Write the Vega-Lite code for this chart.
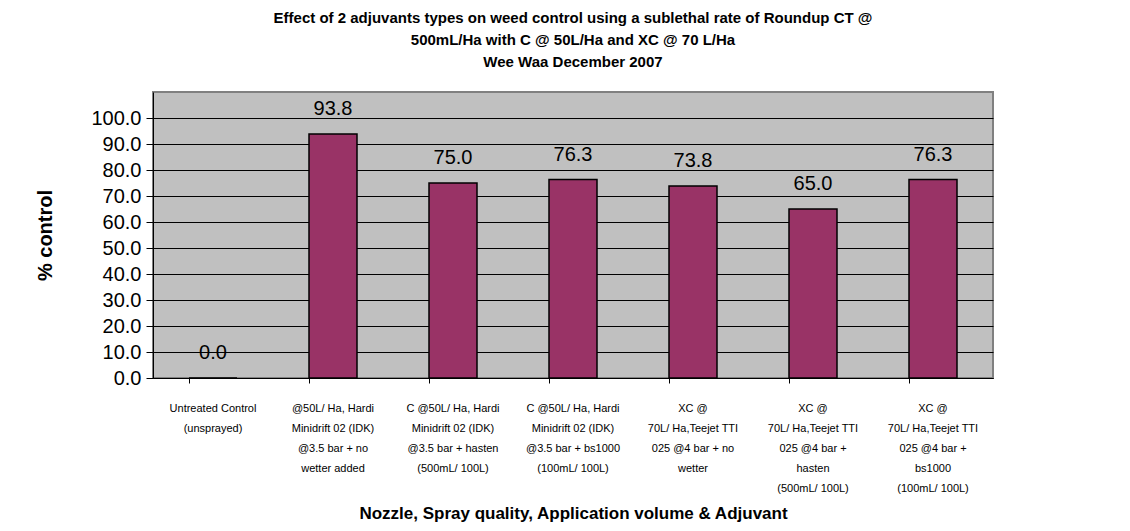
{
  "$schema": "https://vega.github.io/schema/vega-lite/v6.json",
  "width": 840,
  "height": 286,
  "autosize": {"type": "none"},
  "padding": {"left": 153, "top": 92, "right": 137, "bottom": 153},
  "background": "white",
  "title": {
    "text": ["Effect of 2 adjuvants types on weed control using a sublethal rate of Roundup CT @", "500mL/Ha with C @ 50L/Ha and XC @ 70 L/Ha", "Wee Waa December 2007"],
    "font": "Liberation Sans",
    "fontSize": 15,
    "fontWeight": "bold",
    "lineHeight": 22,
    "color": "black",
    "anchor": "middle",
    "offset": 22
  },
  "data": {
    "values": [
      {"treatment": "Untreated Control|(unsprayed)", "control": 0.0},
      {"treatment": "@50L/ Ha, Hardi|Minidrift 02 (IDK)|@3.5 bar + no|wetter added", "control": 93.8},
      {"treatment": "C @50L/ Ha, Hardi|Minidrift 02 (IDK)|@3.5 bar + hasten|(500mL/ 100L)", "control": 75.0},
      {"treatment": "C @50L/ Ha, Hardi|Minidrift 02 (IDK)|@3.5 bar + bs1000|(100mL/ 100L)", "control": 76.3},
      {"treatment": "XC @|70L/ Ha,Teejet TTI|025 @4 bar + no|wetter", "control": 73.8},
      {"treatment": "XC @|70L/ Ha,Teejet TTI|025 @4 bar +|hasten|(500mL/ 100L)", "control": 65.0},
      {"treatment": "XC @ |70L/ Ha,Teejet TTI|025 @4 bar +|bs1000|(100mL/ 100L)", "control": 76.3}
    ]
  },
  "encoding": {
    "x": {
      "field": "treatment",
      "type": "nominal",
      "sort": null,
      "scale": {"paddingInner": 0.6, "paddingOuter": 0.3},
      "axis": {
        "title": "Nozzle, Spray quality, Application volume & Adjuvant",
        "titleFont": "Liberation Sans",
        "titleFontSize": 17,
        "titleFontWeight": "bold",
        "titleColor": "black",
        "titlePadding": 12,
        "labelExpr": "split(datum.label, '|')",
        "labelAngle": 0,
        "labelFont": "Liberation Sans",
        "labelFontSize": 11,
        "labelLineHeight": 20,
        "labelColor": "black",
        "labelPadding": 19,
        "labelBaseline": "top",
        "labelLimit": 0,
        "domainColor": "black",
        "tickColor": "black",
        "tickSize": 5,
        "bandPosition": 0
      }
    },
    "y": {
      "field": "control",
      "type": "quantitative",
      "scale": {"domain": [0, 110], "nice": false},
      "axis": {
        "title": "% control",
        "titleFont": "Liberation Sans",
        "titleFontSize": 20,
        "titleFontWeight": "bold",
        "titleColor": "black",
        "titlePadding": 35,
        "values": [0, 10, 20, 30, 40, 50, 60, 70, 80, 90, 100],
        "format": ".1f",
        "labelFont": "Liberation Sans",
        "labelFontSize": 20,
        "labelColor": "black",
        "labelPadding": 5,
        "tickColor": "black",
        "tickSize": 7,
        "domainColor": "black",
        "grid": true,
        "gridColor": "black",
        "gridWidth": 1
      }
    }
  },
  "layer": [
    {
      "mark": {"type": "bar", "color": "#993366", "stroke": "black", "strokeWidth": 1.5}
    },
    {
      "mark": {"type": "text", "font": "Liberation Sans", "fontSize": 20, "color": "black", "baseline": "bottom", "dy": -15},
      "encoding": {
        "text": {"field": "control", "type": "quantitative", "format": ".1f"}
      }
    }
  ],
  "config": {
    "view": {"fill": "#C0C0C0", "stroke": "#808080", "strokeWidth": 2}
  }
}
